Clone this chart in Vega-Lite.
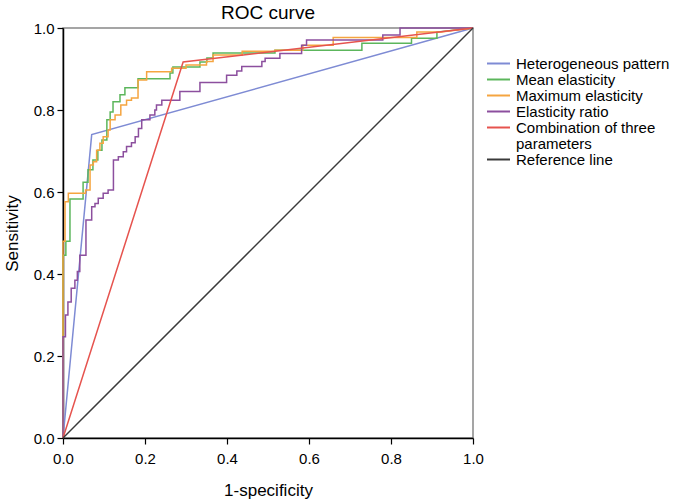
{
  "$schema": "https://vega.github.io/schema/vega-lite/v6.json",
  "width": 410,
  "height": 410,
  "autosize": "none",
  "padding": {"left": 63, "top": 28, "right": 201, "bottom": 63},
  "title": {"text": "ROC curve", "fontSize": 19, "font": "Liberation Sans", "fontWeight": "normal", "color": "#000000", "offset": -2},
  "config": {"view": {"stroke": "#888888", "strokeWidth": 1.5}, "font": "Liberation Sans", "style": {"guide-label": {"lineHeight": 16.5}}},
  "data": {"values": [
    {"s": "Heterogeneous pattern", "x": 0, "y": 0},
    {"s": "Heterogeneous pattern", "x": 0.07, "y": 0.74},
    {"s": "Heterogeneous pattern", "x": 1, "y": 1},
    {"s": "Mean elasticity", "x": 0, "y": 0},
    {"s": "Mean elasticity", "x": 0, "y": 0.446},
    {"s": "Mean elasticity", "x": 0.007, "y": 0.446},
    {"s": "Mean elasticity", "x": 0.007, "y": 0.48},
    {"s": "Mean elasticity", "x": 0.017, "y": 0.48},
    {"s": "Mean elasticity", "x": 0.017, "y": 0.583},
    {"s": "Mean elasticity", "x": 0.049, "y": 0.583},
    {"s": "Mean elasticity", "x": 0.049, "y": 0.624},
    {"s": "Mean elasticity", "x": 0.061, "y": 0.624},
    {"s": "Mean elasticity", "x": 0.061, "y": 0.654},
    {"s": "Mean elasticity", "x": 0.073, "y": 0.654},
    {"s": "Mean elasticity", "x": 0.073, "y": 0.678},
    {"s": "Mean elasticity", "x": 0.085, "y": 0.678},
    {"s": "Mean elasticity", "x": 0.085, "y": 0.702},
    {"s": "Mean elasticity", "x": 0.095, "y": 0.702},
    {"s": "Mean elasticity", "x": 0.095, "y": 0.727},
    {"s": "Mean elasticity", "x": 0.107, "y": 0.727},
    {"s": "Mean elasticity", "x": 0.107, "y": 0.776},
    {"s": "Mean elasticity", "x": 0.115, "y": 0.776},
    {"s": "Mean elasticity", "x": 0.115, "y": 0.795},
    {"s": "Mean elasticity", "x": 0.122, "y": 0.795},
    {"s": "Mean elasticity", "x": 0.122, "y": 0.82},
    {"s": "Mean elasticity", "x": 0.139, "y": 0.82},
    {"s": "Mean elasticity", "x": 0.139, "y": 0.837},
    {"s": "Mean elasticity", "x": 0.151, "y": 0.837},
    {"s": "Mean elasticity", "x": 0.151, "y": 0.854},
    {"s": "Mean elasticity", "x": 0.183, "y": 0.854},
    {"s": "Mean elasticity", "x": 0.183, "y": 0.876},
    {"s": "Mean elasticity", "x": 0.261, "y": 0.876},
    {"s": "Mean elasticity", "x": 0.261, "y": 0.89},
    {"s": "Mean elasticity", "x": 0.268, "y": 0.89},
    {"s": "Mean elasticity", "x": 0.268, "y": 0.905},
    {"s": "Mean elasticity", "x": 0.334, "y": 0.905},
    {"s": "Mean elasticity", "x": 0.334, "y": 0.917},
    {"s": "Mean elasticity", "x": 0.351, "y": 0.917},
    {"s": "Mean elasticity", "x": 0.351, "y": 0.927},
    {"s": "Mean elasticity", "x": 0.366, "y": 0.927},
    {"s": "Mean elasticity", "x": 0.366, "y": 0.939},
    {"s": "Mean elasticity", "x": 0.517, "y": 0.939},
    {"s": "Mean elasticity", "x": 0.517, "y": 0.946},
    {"s": "Mean elasticity", "x": 0.729, "y": 0.946},
    {"s": "Mean elasticity", "x": 0.729, "y": 0.963},
    {"s": "Mean elasticity", "x": 0.85, "y": 0.963},
    {"s": "Mean elasticity", "x": 0.85, "y": 0.975},
    {"s": "Mean elasticity", "x": 0.912, "y": 0.975},
    {"s": "Mean elasticity", "x": 0.912, "y": 0.99},
    {"s": "Mean elasticity", "x": 1, "y": 1},
    {"s": "Maximum elasticity", "x": 0, "y": 0},
    {"s": "Maximum elasticity", "x": 0, "y": 0.48},
    {"s": "Maximum elasticity", "x": 0.005, "y": 0.48},
    {"s": "Maximum elasticity", "x": 0.005, "y": 0.576},
    {"s": "Maximum elasticity", "x": 0.013, "y": 0.576},
    {"s": "Maximum elasticity", "x": 0.013, "y": 0.597},
    {"s": "Maximum elasticity", "x": 0.055, "y": 0.597},
    {"s": "Maximum elasticity", "x": 0.055, "y": 0.605},
    {"s": "Maximum elasticity", "x": 0.066, "y": 0.605},
    {"s": "Maximum elasticity", "x": 0.066, "y": 0.666},
    {"s": "Maximum elasticity", "x": 0.074, "y": 0.666},
    {"s": "Maximum elasticity", "x": 0.074, "y": 0.674},
    {"s": "Maximum elasticity", "x": 0.082, "y": 0.674},
    {"s": "Maximum elasticity", "x": 0.082, "y": 0.702},
    {"s": "Maximum elasticity", "x": 0.09, "y": 0.702},
    {"s": "Maximum elasticity", "x": 0.09, "y": 0.719},
    {"s": "Maximum elasticity", "x": 0.098, "y": 0.719},
    {"s": "Maximum elasticity", "x": 0.098, "y": 0.735},
    {"s": "Maximum elasticity", "x": 0.11, "y": 0.735},
    {"s": "Maximum elasticity", "x": 0.11, "y": 0.751},
    {"s": "Maximum elasticity", "x": 0.115, "y": 0.751},
    {"s": "Maximum elasticity", "x": 0.115, "y": 0.776},
    {"s": "Maximum elasticity", "x": 0.127, "y": 0.776},
    {"s": "Maximum elasticity", "x": 0.127, "y": 0.788},
    {"s": "Maximum elasticity", "x": 0.141, "y": 0.788},
    {"s": "Maximum elasticity", "x": 0.141, "y": 0.812},
    {"s": "Maximum elasticity", "x": 0.155, "y": 0.812},
    {"s": "Maximum elasticity", "x": 0.155, "y": 0.824},
    {"s": "Maximum elasticity", "x": 0.167, "y": 0.824},
    {"s": "Maximum elasticity", "x": 0.167, "y": 0.829},
    {"s": "Maximum elasticity", "x": 0.183, "y": 0.829},
    {"s": "Maximum elasticity", "x": 0.183, "y": 0.873},
    {"s": "Maximum elasticity", "x": 0.204, "y": 0.873},
    {"s": "Maximum elasticity", "x": 0.204, "y": 0.893},
    {"s": "Maximum elasticity", "x": 0.265, "y": 0.893},
    {"s": "Maximum elasticity", "x": 0.265, "y": 0.902},
    {"s": "Maximum elasticity", "x": 0.3, "y": 0.902},
    {"s": "Maximum elasticity", "x": 0.3, "y": 0.91},
    {"s": "Maximum elasticity", "x": 0.35, "y": 0.91},
    {"s": "Maximum elasticity", "x": 0.35, "y": 0.918},
    {"s": "Maximum elasticity", "x": 0.366, "y": 0.918},
    {"s": "Maximum elasticity", "x": 0.366, "y": 0.934},
    {"s": "Maximum elasticity", "x": 0.437, "y": 0.934},
    {"s": "Maximum elasticity", "x": 0.437, "y": 0.943},
    {"s": "Maximum elasticity", "x": 0.517, "y": 0.943},
    {"s": "Maximum elasticity", "x": 0.517, "y": 0.946},
    {"s": "Maximum elasticity", "x": 0.585, "y": 0.946},
    {"s": "Maximum elasticity", "x": 0.585, "y": 0.958},
    {"s": "Maximum elasticity", "x": 0.659, "y": 0.958},
    {"s": "Maximum elasticity", "x": 0.659, "y": 0.977},
    {"s": "Maximum elasticity", "x": 0.863, "y": 0.977},
    {"s": "Maximum elasticity", "x": 0.863, "y": 0.99},
    {"s": "Maximum elasticity", "x": 0.922, "y": 0.99},
    {"s": "Maximum elasticity", "x": 1, "y": 1},
    {"s": "Elasticity ratio", "x": 0, "y": 0},
    {"s": "Elasticity ratio", "x": 0, "y": 0.247},
    {"s": "Elasticity ratio", "x": 0.006, "y": 0.247},
    {"s": "Elasticity ratio", "x": 0.006, "y": 0.3},
    {"s": "Elasticity ratio", "x": 0.012, "y": 0.3},
    {"s": "Elasticity ratio", "x": 0.012, "y": 0.332},
    {"s": "Elasticity ratio", "x": 0.02, "y": 0.332},
    {"s": "Elasticity ratio", "x": 0.02, "y": 0.365},
    {"s": "Elasticity ratio", "x": 0.029, "y": 0.365},
    {"s": "Elasticity ratio", "x": 0.029, "y": 0.385},
    {"s": "Elasticity ratio", "x": 0.035, "y": 0.385},
    {"s": "Elasticity ratio", "x": 0.035, "y": 0.406},
    {"s": "Elasticity ratio", "x": 0.041, "y": 0.406},
    {"s": "Elasticity ratio", "x": 0.041, "y": 0.446},
    {"s": "Elasticity ratio", "x": 0.056, "y": 0.446},
    {"s": "Elasticity ratio", "x": 0.056, "y": 0.532},
    {"s": "Elasticity ratio", "x": 0.07, "y": 0.532},
    {"s": "Elasticity ratio", "x": 0.07, "y": 0.564},
    {"s": "Elasticity ratio", "x": 0.078, "y": 0.564},
    {"s": "Elasticity ratio", "x": 0.078, "y": 0.572},
    {"s": "Elasticity ratio", "x": 0.086, "y": 0.572},
    {"s": "Elasticity ratio", "x": 0.086, "y": 0.585},
    {"s": "Elasticity ratio", "x": 0.098, "y": 0.585},
    {"s": "Elasticity ratio", "x": 0.098, "y": 0.597},
    {"s": "Elasticity ratio", "x": 0.11, "y": 0.597},
    {"s": "Elasticity ratio", "x": 0.11, "y": 0.605},
    {"s": "Elasticity ratio", "x": 0.123, "y": 0.605},
    {"s": "Elasticity ratio", "x": 0.123, "y": 0.678},
    {"s": "Elasticity ratio", "x": 0.135, "y": 0.678},
    {"s": "Elasticity ratio", "x": 0.135, "y": 0.686},
    {"s": "Elasticity ratio", "x": 0.147, "y": 0.686},
    {"s": "Elasticity ratio", "x": 0.147, "y": 0.698},
    {"s": "Elasticity ratio", "x": 0.155, "y": 0.698},
    {"s": "Elasticity ratio", "x": 0.155, "y": 0.711},
    {"s": "Elasticity ratio", "x": 0.167, "y": 0.711},
    {"s": "Elasticity ratio", "x": 0.167, "y": 0.72},
    {"s": "Elasticity ratio", "x": 0.176, "y": 0.72},
    {"s": "Elasticity ratio", "x": 0.176, "y": 0.735},
    {"s": "Elasticity ratio", "x": 0.184, "y": 0.735},
    {"s": "Elasticity ratio", "x": 0.184, "y": 0.755},
    {"s": "Elasticity ratio", "x": 0.192, "y": 0.755},
    {"s": "Elasticity ratio", "x": 0.192, "y": 0.776},
    {"s": "Elasticity ratio", "x": 0.212, "y": 0.776},
    {"s": "Elasticity ratio", "x": 0.212, "y": 0.788},
    {"s": "Elasticity ratio", "x": 0.224, "y": 0.788},
    {"s": "Elasticity ratio", "x": 0.224, "y": 0.8},
    {"s": "Elasticity ratio", "x": 0.228, "y": 0.8},
    {"s": "Elasticity ratio", "x": 0.228, "y": 0.812},
    {"s": "Elasticity ratio", "x": 0.241, "y": 0.812},
    {"s": "Elasticity ratio", "x": 0.241, "y": 0.824},
    {"s": "Elasticity ratio", "x": 0.285, "y": 0.824},
    {"s": "Elasticity ratio", "x": 0.285, "y": 0.845},
    {"s": "Elasticity ratio", "x": 0.334, "y": 0.845},
    {"s": "Elasticity ratio", "x": 0.334, "y": 0.867},
    {"s": "Elasticity ratio", "x": 0.399, "y": 0.867},
    {"s": "Elasticity ratio", "x": 0.399, "y": 0.885},
    {"s": "Elasticity ratio", "x": 0.424, "y": 0.885},
    {"s": "Elasticity ratio", "x": 0.424, "y": 0.895},
    {"s": "Elasticity ratio", "x": 0.436, "y": 0.895},
    {"s": "Elasticity ratio", "x": 0.436, "y": 0.906},
    {"s": "Elasticity ratio", "x": 0.485, "y": 0.906},
    {"s": "Elasticity ratio", "x": 0.485, "y": 0.918},
    {"s": "Elasticity ratio", "x": 0.493, "y": 0.918},
    {"s": "Elasticity ratio", "x": 0.493, "y": 0.926},
    {"s": "Elasticity ratio", "x": 0.529, "y": 0.926},
    {"s": "Elasticity ratio", "x": 0.529, "y": 0.938},
    {"s": "Elasticity ratio", "x": 0.582, "y": 0.938},
    {"s": "Elasticity ratio", "x": 0.582, "y": 0.958},
    {"s": "Elasticity ratio", "x": 0.594, "y": 0.958},
    {"s": "Elasticity ratio", "x": 0.594, "y": 0.971},
    {"s": "Elasticity ratio", "x": 0.78, "y": 0.971},
    {"s": "Elasticity ratio", "x": 0.78, "y": 0.983},
    {"s": "Elasticity ratio", "x": 0.822, "y": 0.983},
    {"s": "Elasticity ratio", "x": 0.822, "y": 1},
    {"s": "Elasticity ratio", "x": 1, "y": 1},
    {"s": "Combination of three parameters", "x": 0, "y": 0},
    {"s": "Combination of three parameters", "x": 0.293, "y": 0.917},
    {"s": "Combination of three parameters", "x": 1, "y": 1},
    {"s": "Reference line", "x": 0, "y": 0},
    {"s": "Reference line", "x": 1, "y": 1}
  ]},
  "mark": {"type": "line", "strokeWidth": 1.5, "clip": false},
  "encoding": {
    "x": {"field": "x", "type": "quantitative", "scale": {"domain": [0, 1], "nice": false},
      "axis": {"title": "1-specificity", "values": [0, 0.2, 0.4, 0.6, 0.8, 1], "format": ".1f", "grid": false,
        "domainColor": "#000000", "domainWidth": 1.5, "tickColor": "#000000", "tickSize": 6, "tickWidth": 1.2,
        "labelFontSize": 15, "labelColor": "#000000", "labelPadding": 7, "labelFlush": false,
        "titleFontSize": 17, "titleFontWeight": "normal", "titleColor": "#000000", "titlePadding": 16}},
    "y": {"field": "y", "type": "quantitative", "scale": {"domain": [0, 1], "nice": false},
      "axis": {"title": "Sensitivity", "values": [0, 0.2, 0.4, 0.6, 0.8, 1], "format": ".1f", "grid": false,
        "domainColor": "#000000", "domainWidth": 1.5, "tickColor": "#000000", "tickSize": 6, "tickWidth": 1.2,
        "labelFontSize": 15, "labelColor": "#000000", "labelPadding": 3, "labelFlush": false,
        "titleFontSize": 17, "titleFontWeight": "normal", "titleColor": "#000000", "titlePadding": 12}},
    "color": {"field": "s", "type": "nominal",
      "scale": {"domain": ["Heterogeneous pattern", "Mean elasticity", "Maximum elasticity", "Elasticity ratio", "Combination of three parameters", "Reference line"],
        "range": ["#7e8bd4", "#5cb65c", "#f5a540", "#8c4f9e", "#e6534e", "#3a3a3a"]},
      "legend": {"title": null, "orient": "none", "legendX": 428, "legendY": 28, "padding": 0,
        "symbolType": "M-2.3,0H2.3", "symbolSize": 100, "symbolStrokeWidth": 2,
        "labelFontSize": 15, "labelColor": "#000000", "labelOffset": 10, "rowPadding": 0, "labelLimit": 300,
        "labelExpr": "datum.label == 'Combination of three parameters' ? ['Combination of three', 'parameters'] : datum.label"}},
    "order": {"value": null}
  }
}
